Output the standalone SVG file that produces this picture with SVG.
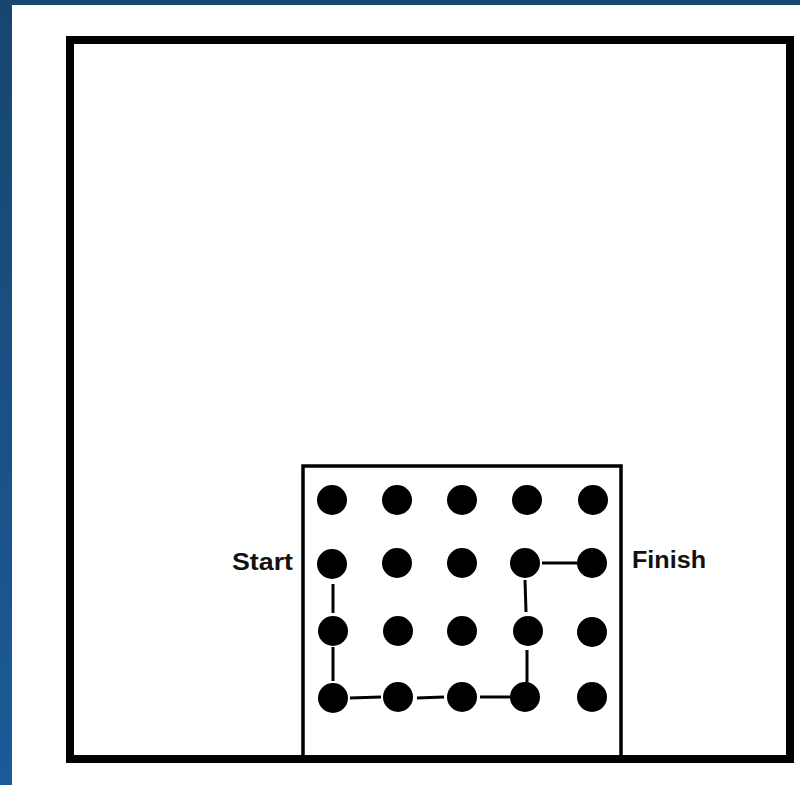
<svg xmlns="http://www.w3.org/2000/svg" width="800" height="785" viewBox="0 0 800 785">
  <defs>
    <linearGradient id="bg" x1="0" y1="0" x2="0" y2="1">
      <stop offset="0" stop-color="#174670"/>
      <stop offset="1" stop-color="#1c5a98"/>
    </linearGradient>
    <style>
      .frame { fill: none; stroke: #000; }
      .dot { fill: #000; }
      .path { stroke: #000; stroke-width: 3; fill: none; }
      .lbl { font-family: "Liberation Sans", Arial, sans-serif; font-weight: bold; font-size: 23px; fill: #111; }
    </style>
  </defs>
  <rect x="0" y="0" width="800" height="785" fill="url(#bg)"/>
  <rect x="12" y="5" width="788" height="780" fill="#ffffff"/>

  <g id="outer-box">
    <rect class="frame" x="70" y="40" width="720" height="719" stroke-width="8"/>
  </g>
  <g id="inner-box">
    <polyline class="frame" points="303,759 303,466 621,466 621,759" stroke-width="3.5"/>
  </g>

  <g id="connectors">
    <line class="path" x1="333" y1="584" x2="333" y2="613"/>
    <line class="path" x1="333" y1="647" x2="333" y2="681"/>
    <line class="path" x1="350" y1="698" x2="381" y2="697"/>
    <line class="path" x1="417" y1="698" x2="444" y2="697"/>
    <line class="path" x1="480" y1="697" x2="510" y2="697"/>
    <line class="path" x1="527" y1="683" x2="527" y2="650"/>
    <line class="path" x1="526" y1="612" x2="525" y2="580"/>
    <line class="path" x1="542" y1="563" x2="577" y2="563"/>
  </g>

  <g id="dots">
    <g id="r1">
      <circle class="dot" cx="332" cy="500" r="15"/>
      <circle class="dot" cx="397" cy="500" r="15"/>
      <circle class="dot" cx="462" cy="500" r="15"/>
      <circle class="dot" cx="527" cy="500" r="15"/>
      <circle class="dot" cx="593" cy="500" r="15"/>
    </g>
    <g id="r2">
      <circle class="dot" cx="332" cy="564" r="15"/>
      <circle class="dot" cx="397" cy="563" r="15"/>
      <circle class="dot" cx="462" cy="563" r="15"/>
      <circle class="dot" cx="525" cy="563" r="15"/>
      <circle class="dot" cx="592" cy="563" r="15"/>
    </g>
    <g id="r3">
      <circle class="dot" cx="333" cy="631" r="15"/>
      <circle class="dot" cx="398" cy="631" r="15"/>
      <circle class="dot" cx="462" cy="631" r="15"/>
      <circle class="dot" cx="528" cy="631" r="15"/>
      <circle class="dot" cx="592" cy="632" r="15"/>
    </g>
    <g id="r4">
      <circle class="dot" cx="333" cy="698" r="15"/>
      <circle class="dot" cx="398" cy="697" r="15"/>
      <circle class="dot" cx="462" cy="697" r="15"/>
      <circle class="dot" cx="525" cy="697" r="15"/>
      <circle class="dot" cx="592" cy="697" r="15"/>
    </g>
  </g>

  <g id="label-start">
    <text class="lbl" x="232" y="570" textLength="61" lengthAdjust="spacingAndGlyphs">Start</text>
  </g>
  <g id="label-finish">
    <text class="lbl" x="632" y="568" textLength="74" lengthAdjust="spacingAndGlyphs">Finish</text>
  </g>
</svg>
